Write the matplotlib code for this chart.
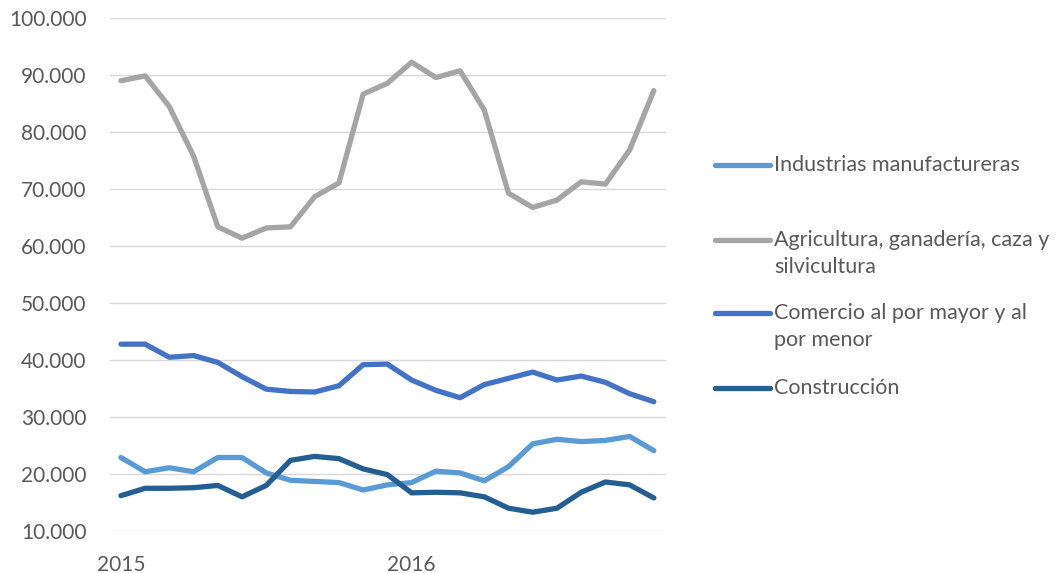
import matplotlib
matplotlib.use("Agg")
import matplotlib.pyplot as plt
from matplotlib.lines import Line2D

plt.rcParams['font.family'] = ['Lato', 'DejaVu Sans']

# Data (monthly, Jan 2015 - Nov 2016)
x_labels = ["2015", "2016"]
label_pos = [0, 12]

industrias = [22.9, 20.4, 21.1, 20.4, 22.9, 22.9, 20.2, 18.9, 18.7, 18.5, 17.2, 18.1,
              18.5, 20.5, 20.2, 18.8, 21.3, 25.3, 26.1, 25.7, 25.9, 26.6, 24.1]
agricultura = [89.05, 89.9, 84.5, 75.8, 63.4, 61.4, 63.2, 63.4, 68.7, 71.1, 86.7, 88.6,
               92.3, 89.6, 90.8, 83.9, 69.3, 66.8, 68.1, 71.3, 70.9, 76.9, 87.3]
comercio = [42.8, 42.8, 40.5, 40.8, 39.6, 37.1, 34.9, 34.5, 34.4, 35.5, 39.2, 39.3,
            36.5, 34.7, 33.4, 35.7, 36.8, 37.9, 36.5, 37.2, 36.1, 34.1, 32.7]
construccion = [16.2, 17.5, 17.5, 17.6, 18.0, 16.0, 18.0, 22.4, 23.1, 22.7, 20.9, 19.9,
                16.7, 16.8, 16.7, 16.0, 14.0, 13.3, 14.0, 16.8, 18.6, 18.1, 15.8]

series = [
    ("Industrias manufactureras", industrias, "#5B9BD5"),
    ("Agricultura, ganadería, caza y\nsilvicultura", agricultura, "#A5A5A5"),
    ("Comercio al por mayor y al\npor menor", comercio, "#4472C4"),
    ("Construcción", construccion, "#255E91"),
]

text_color = "#595959"

fig = plt.figure(figsize=(10.63, 5.73), dpi=100)
ax = fig.add_axes([0.1035, 0.0733, 0.523, 0.8947])

for name, vals, color in series:
    ax.plot(range(len(vals)), [v * 1000 for v in vals], color=color, lw=3.8,
            solid_capstyle="round", solid_joinstyle="round")

ax.set_xlim(-0.45, 22.5)
ax.set_ylim(10000, 100000)
ax.set_yticks(range(10000, 100001, 10000))
ax.set_yticklabels([f"{v // 1000}.000" for v in range(10000, 100001, 10000)])
ax.set_xticks(label_pos)
ax.set_xticklabels(x_labels)
ax.grid(axis="y", color="#D9D9D9", lw=1.0)
ax.set_axisbelow(True)
for s in ax.spines.values():
    s.set_visible(False)
ax.tick_params(length=0, labelsize=15, labelcolor=text_color)
ax.tick_params(axis="y", pad=17)
ax.tick_params(axis="x", pad=17)

# Legend drawn by hand to match spacing
leg_y = [165, 240, 313, 388]  # pixel rows of the line markers (top = 0)
W, H = 1063, 573
for (name, vals, color), py in zip(series, leg_y):
    yf = 1 - py / H
    fig.add_artist(Line2D([715 / W, 770 / W], [yf, yf], color=color, lw=3.8,
                          solid_capstyle="round"))
    fig.text(774 / W, yf + 0.0175, name, ha="left", va="top", fontsize=15.5,
             color=text_color, linespacing=1.45)

fig.savefig("out.png", dpi=100)
